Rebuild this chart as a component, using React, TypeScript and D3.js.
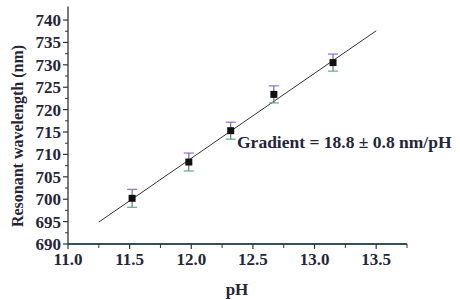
import React from "react";
import { scaleLinear, range } from "d3";

// measured points (pH vs resonant wavelength)
const phValues = [11.52, 11.98, 12.32, 12.67, 13.15];
const wavelengths = [700.2, 708.3, 715.3, 723.4, 730.5];
const errors = [2.0, 2.0, 1.9, 1.9, 1.9];

// linear fit endpoints
const fitX = [11.25, 13.5];
const fitY = [694.9, 737.6];

const xTicks = [11.0, 11.5, 12.0, 12.5, 13.0, 13.5];
const yTicks = [690, 695, 700, 705, 710, 715, 720, 725, 730, 735, 740];

const W = 460;
const H = 300;
const font = "'Times New Roman', 'Liberation Serif', serif";
const ink = "#25253a";

function App() {
  const x = scaleLinear().domain([11.0, 13.75]).range([68, 407]);
  const y = scaleLinear().domain([690, 743]).range([244, 6.6]);

  const xMinor = range(11.25, 13.76, 0.5);
  const yMinor = range(692.5, 742, 5);

  return (
    <svg
      width={W}
      height={H}
      style={{ position: "absolute", left: 0, top: 0, background: "#fff" }}
    >
      {/* axes */}
      <line x1={x(11)} x2={x(11)} y1={y(743)} y2={y(690)} stroke="#333" strokeWidth={1.3} />
      <line x1={x(11)} x2={x(13.75)} y1={y(690)} y2={y(690)} stroke="#34505a" strokeWidth={1.8} />

      {yTicks.map((t) => (
        <g key={"yt" + t}>
          <line x1={x(11) - 5} x2={x(11)} y1={y(t)} y2={y(t)} stroke="#333" strokeWidth={1.2} />
          <text
            x={x(11) - 7}
            y={y(t)}
            dy="0.35em"
            textAnchor="end"
            fontFamily={font}
            fontWeight="bold"
            fontSize={17}
            fill={ink}
          >
            {t}
          </text>
        </g>
      ))}
      {yMinor.map((t) => (
        <line key={"ym" + t} x1={x(11) - 3} x2={x(11)} y1={y(t)} y2={y(t)} stroke="#333" strokeWidth={1} />
      ))}

      {xTicks.map((t) => (
        <g key={"xt" + t}>
          <line x1={x(t)} x2={x(t)} y1={y(690)} y2={y(690) + 5} stroke="#333" strokeWidth={1.2} />
          <text
            x={x(t)}
            y={y(690) + 21}
            textAnchor="middle"
            fontFamily={font}
            fontWeight="bold"
            fontSize={17}
            fill={ink}
          >
            {t.toFixed(1)}
          </text>
        </g>
      ))}
      {xMinor.map((t) => (
        <line key={"xm" + t} x1={x(t)} x2={x(t)} y1={y(690)} y2={y(690) + 4} stroke="#333" strokeWidth={1} />
      ))}

      {/* axis titles */}
      <text
        x={237}
        y={295}
        textAnchor="middle"
        fontFamily={font}
        fontWeight="bold"
        fontSize={17}
        fill={ink}
      >
        pH
      </text>
      <text
        transform={`translate(23, 136) rotate(-90)`}
        textAnchor="middle"
        fontFamily={font}
        fontWeight="bold"
        fontSize={16}
        fill={ink}
      >
        Resonant wavelength (nm)
      </text>

      {/* fit line */}
      <line
        x1={x(fitX[0])}
        y1={y(fitY[0])}
        x2={x(fitX[1])}
        y2={y(fitY[1])}
        stroke="#333"
        strokeWidth={1}
      />

      {/* error bars and points */}
      {phValues.map((p, i) => {
        const cx = x(p);
        const top = y(wavelengths[i] + errors[i]);
        const bot = y(wavelengths[i] - errors[i]);
        return (
          <g key={"pt" + i}>
            <line x1={cx} x2={cx} y1={top} y2={bot} stroke="#555" strokeWidth={1} />
            <line x1={cx - 5} x2={cx + 5} y1={top} y2={top} stroke="#9a6ac8" strokeWidth={1.2} />
            <line x1={cx - 5} x2={cx + 5} y1={bot} y2={bot} stroke="#5aa8a0" strokeWidth={1.2} />
            <rect x={cx - 3.5} y={y(wavelengths[i]) - 3.5} width={7} height={7} fill="#111" />
          </g>
        );
      })}

      <text
        x={237}
        y={148}
        fontFamily={font}
        fontWeight="bold"
        fontSize={17.5}
        fill={ink}
      >
        Gradient = 18.8 ± 0.8 nm/pH
      </text>
    </svg>
  );
}

export default App;
